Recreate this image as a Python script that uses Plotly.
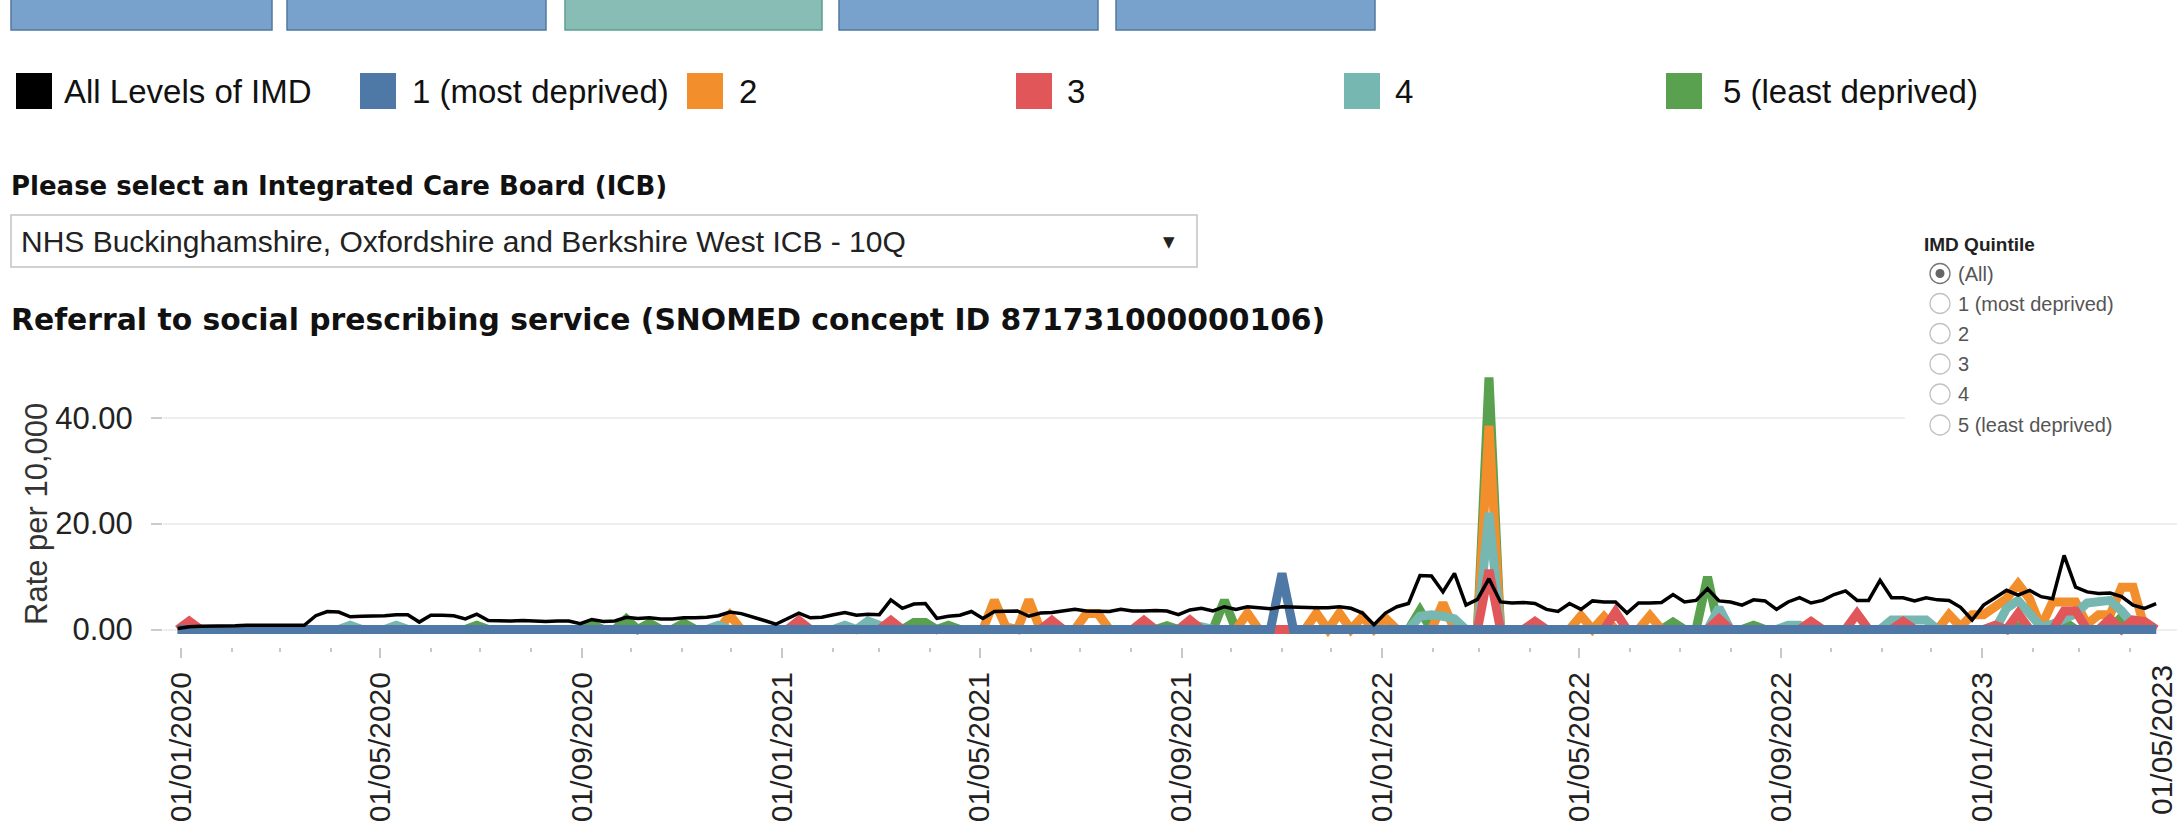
import pandas as pd
import plotly.graph_objects as go

# ---------------- data ----------------
weeks = pd.date_range("2019-12-30", periods=173, freq="7D")

all_imd = [
    0.2, 0.5, 0.6, 0.6, 0.7, 0.7, 0.8, 0.8, 0.9, 0.9, 0.9, 0.8, 2.6, 3.4, 3.3, 2.4, 2.5, 2.5, 2.6, 2.8,
    2.8, 1.4, 2.7, 2.7, 2.6, 2.0, 2.9, 1.7, 1.6, 1.6, 1.7, 1.6, 1.5, 1.6, 1.6, 1.1, 1.9, 1.5, 1.6, 2.3,
    2.1, 2.2, 2.0, 2.0, 2.2, 2.2, 2.3, 2.6, 3.3, 3.0, 2.4, 1.7, 1.0, 2.1, 3.1, 2.2, 2.3, 2.8, 3.2, 2.7,
    2.9, 2.8, 5.6, 4.0, 4.8, 4.9, 2.1, 2.5, 2.7, 3.4, 2.1, 3.4, 3.4, 3.5, 2.5, 3.1, 3.2, 3.5, 3.8, 3.5,
    3.5, 3.4, 3.8, 3.5, 3.5, 3.6, 3.5, 2.8, 3.7, 4.0, 3.5, 4.3, 3.8, 4.3, 4.1, 3.9, 4.3, 4.2, 4.1, 4.1,
    4.1, 4.3, 4.0, 3.1, 0.9, 3.1, 4.3, 4.9, 10.2, 10.1, 7.1, 10.6, 4.6, 5.7, 9.6, 5.2, 5.0, 5.1, 4.9, 3.8,
    3.4, 4.9, 3.8, 5.4, 5.2, 5.2, 3.1, 5.0, 5.0, 5.1, 6.6, 5.2, 5.5, 7.7, 5.4, 5.2, 4.6, 5.6, 5.4, 3.8,
    5.2, 6.0, 5.0, 5.5, 6.6, 7.3, 5.5, 5.5, 9.3, 6.0, 6.0, 5.4, 6.0, 5.6, 5.5, 4.2, 1.8, 4.6, 6.0, 7.4,
    6.5, 7.4, 6.2, 5.8, 14.0, 8.0, 7.1, 6.8, 6.9, 6.2, 4.6, 4.0, 4.9,
]

q1_most = [
    0, 0, 0, 0, 0, 0, 0, 0, 0, 0, 0, 0, 0, 0, 0, 0, 0, 0, 0, 0,
    0, 0, 0, 0, 0, 0, 0, 0, 0, 0, 0, 0, 0, 0, 0, 0, 0, 0, 0, 0,
    0, 0, 0, 0, 0, 0, 0, 0, 0, 0, 0, 0, 0, 0, 0, 0, 0, 0, 0, 0,
    0, 0, 0, 0, 0, 0, 0, 0, 0, 0, 0, 0, 0, 0, 0, 0, 0, 0, 0, 0,
    0, 0, 0, 0, 0, 0, 0, 0, 0, 0, 0, 0, 0, 0, 0, 0, 10.6, 0, 0, 0,
    0, 0, 0, 0, 0, 0, 0, 0, 0, 0, 0, 0, 0, 0, 0, 0, 0, 0, 0, 0,
    0, 0, 0, 0, 0, 0, 0, 0, 0, 0, 0, 0, 0, 0, 0, 0, 0, 0, 0, 0,
    0, 0, 0, 0, 0, 0, 0, 0, 0, 0, 0, 0, 0, 0, 0, 0, 0, 0, 0, 0,
    0, 0, 0, 0, 0, 0, 0, 0, 0, 0, 0, 0, 0,
]

q2 = [
    0, 0, 0, 0, 0, 0, 0, 0, 0, 0, 0, 0, 0, 0, 0, 0, 0, 0, 0, 0,
    0, 0, 0, 0, 0, 0, 0, 0, 0, 0, 0, 0, 0, 0, 0, 0, 0, 0, 0, 0,
    0, 0, 0, 0, 0, 0, 0, 0, 2.7, 0, 0, 0, 0, 0, 0, 0, 0, 0, 0, 0,
    0, 0, 0, 0, 0, 0, 0, 0, 0, 0, 0, 5.5, 0.5, 0, 5.6, 0, 0, 0, 0, 3.0,
    3.0, 0, 0, 0, 0, 0, 0, 0, 0, 0, 0, 0, 0, 3.1, 0, 0, 0, 0, 0, 3.1,
    0, 3.1, 0, 2.4, 0, 2.1, 0, 0, 0, 0, 5.0, 0, 0, 0, 38.5, 0, 0, 0, 0, 0,
    0, 0, 2.6, 0, 2.4, 0, 0, 0, 2.6, 0, 0, 0, 0, 0, 0, 0, 0, 0, 0, 0,
    0, 0, 0, 0, 0, 0, 0, 0, 0, 0, 0, 0, 0, 0, 2.8, 0.5, 2.8, 2.8, 4.3, 5.8,
    8.6, 5.8, 0.5, 5.2, 5.2, 5.2, 1.0, 2.8, 2.8, 8.0, 8.0, 0.3, 0,
]

q3 = [
    0, 1.6, 0, 0, 0, 0, 0, 0, 0, 0, 0, 0, 0, 0, 0, 0, 0, 0, 0, 0,
    0, 0, 0, 0, 0, 0, 0, 0, 0, 0, 0, 0, 0, 0, 0, 0, 0, 0, 0, 0,
    0, 0, 0, 0, 0, 0, 0, 0, 0, 0, 0, 0, 0, 0, 1.7, 0, 0, 0, 0, 0,
    0, 0, 1.7, 0, 0, 0, 0, 0, 0, 0, 0, 0, 0, 0, 0, 0, 1.7, 0, 0, 0,
    0, 0, 0, 0, 1.7, 0, 0, 0, 1.8, 0, 0, 0, 0, 0, 0, 0, 0, 0, 0, 0,
    0, 0, 0, 0, 0, 0, 0, 0, 0, 0, 0, 0, 0, 0, 11.2, 0, 0, 0, 1.5, 0,
    0, 0, 0, 0, 0, 3.3, 0, 0, 0, 0, 0, 0, 0, 0, 2.0, 0, 0, 0, 0, 0,
    0, 0, 1.5, 0, 0, 0, 3.0, 0, 0, 0, 1.5, 0, 0, 0, 0, 0, 0, 0, 0.8, 0,
    3.0, 0, 0, 0, 3.5, 3.5, 0, 0, 2.0, 0, 1.8, 1.5, 0,
]

q4 = [
    0, 0, 0, 0, 0, 0, 0, 0, 0, 0, 0, 0, 0, 0, 0, 0.8, 0, 0, 0, 0.8,
    0, 0, 0, 0, 0, 0, 0, 0, 0, 0, 0, 0, 0, 0, 0, 0, 0, 0, 0, 0,
    0, 0, 0, 0, 0, 0, 0, 0.8, 0, 0, 0, 0, 0, 0, 0, 0, 0, 0, 0.8, 0,
    1.6, 1.0, 0, 0, 0, 0, 0, 0, 0, 0, 0, 0, 0, 0, 0, 0, 0, 0, 0, 0,
    0, 0, 0, 0, 0, 0, 0, 0, 1.0, 0.5, 0, 0, 0, 0, 0, 0, 0, 0, 0, 0,
    0, 0, 0, 0, 0, 0, 0, 0, 2.5, 2.8, 2.5, 2.0, 0, 0, 22.0, 0, 0, 0, 0, 0,
    0, 0, 0, 0, 0, 0, 0, 0, 0, 0, 0, 0, 0, 0, 4.1, 0, 0, 0, 0, 0,
    0.8, 0.8, 0, 0, 0, 0, 0, 0, 0, 1.8, 1.8, 1.8, 1.8, 0, 0, 0, 0, 0, 0, 4.0,
    5.5, 3.0, 0.5, 1.0, 2.0, 3.0, 5.0, 5.3, 5.5, 3.5, 1.0, 0, 0,
]

q5_least = [
    0, 0, 0, 0, 0, 0, 0, 0, 0, 0, 0, 0, 0, 0, 0, 0, 0, 0, 0, 0,
    0, 0, 0, 0, 0, 0, 0.8, 0, 0, 0, 0, 0, 0, 0, 0, 0, 1.0, 0, 0, 2.0,
    0, 1.2, 0, 0, 1.2, 0, 0, 0, 0, 0, 0, 0, 0, 0, 0, 0, 0, 0, 0, 0,
    0, 0, 0, 0, 1.3, 1.3, 0, 0.8, 0, 0, 0, 0, 0, 0, 0, 0, 0, 0, 0, 0,
    0, 0, 0, 0, 0, 0, 0.7, 0, 0, 0, 0, 5.5, 0, 0, 0, 0, 0, 0, 0, 0,
    0, 0, 0, 0, 0, 0, 0, 0, 3.6, 0, 0, 0, 0, 0, 47.6, 0, 0, 0, 0, 0,
    0, 0, 0, 0, 0, 0, 0, 0, 0, 0, 1.4, 0, 0, 9.9, 0, 0, 0, 0.8, 0, 0,
    0, 0, 0, 0, 0, 0, 0, 0, 0, 0, 0, 0, 0, 0, 0, 0, 0, 0, 0, 0,
    0.6, 0, 0, 0, 1.5, 0, 0, 0, 0, 2.4, 0, 0, 0,
]

legend_labels = ["All Levels of IMD", "1 (most deprived)", "2", "3", "4", "5 (least deprived)"]
radio_labels = ["(All)", "1 (most deprived)", "2", "3", "4", "5 (least deprived)"]
y_ticks = [0, 20, 40]
last_tick_label = "01/05/2023"

# ---------------- styling ----------------
W, H = 2177, 829
L, R, T, B = 163, 0, 360, 182
PW, PH = W - L - R, H - T - B
ARIAL = "Liberation Sans, Arial, sans-serif"
BOLD = "DejaVu Sans, Verdana, sans-serif"
COLORS = {"all": "#000000", "1": "#4E79A7", "2": "#F28E2B", "3": "#E15759", "4": "#76B7B2", "5": "#59A14F"}


def px(x):
    return (x - L) / PW


def py(y):
    return (H - B - y) / PH


fig = go.Figure()
series = [
    (q5_least, COLORS["5"], 9),
    (q2, COLORS["2"], 9),
    (q4, COLORS["4"], 9),
    (q3, COLORS["3"], 9),
    (q1_most, COLORS["1"], 9),
    (all_imd, COLORS["all"], 3.5),
]
for vals, col, w in series:
    fig.add_trace(go.Scatter(x=weeks, y=vals, mode="lines",
                             line=dict(color=col, width=w), hoverinfo="skip"))

shapes = []
annotations = []

# cropped buttons at top
buttons = [(11, 272, "#78A2CB", "#51799F"), (287, 546, "#78A2CB", "#51799F"),
           (565, 822, "#87BDB5", "#5E9E92"), (839, 1098, "#78A2CB", "#51799F"),
           (1116, 1375, "#78A2CB", "#51799F")]
for x0, x1, fill, edge in buttons:
    shapes.append(dict(type="rect", xref="paper", yref="paper", x0=px(x0), x1=px(x1),
                       y0=py(30), y1=py(-4), fillcolor=fill, line=dict(color=edge, width=1.5)))

# colour legend row
sw_x = [16, 360, 687, 1016, 1344, 1666]
tx_x = [62, 410, 737, 1065, 1393, 1721]
sw_cols = [COLORS["all"], COLORS["1"], COLORS["2"], COLORS["3"], COLORS["4"], COLORS["5"]]
for sx, tx, col, lab in zip(sw_x, tx_x, sw_cols, legend_labels):
    shapes.append(dict(type="rect", xref="paper", yref="paper", x0=px(sx), x1=px(sx + 36),
                       y0=py(109), y1=py(73), fillcolor=col, line=dict(width=0)))
    annotations.append(dict(text=lab, x=px(tx), y=py(91), xref="paper", yref="paper",
                            xanchor="left", yanchor="middle", showarrow=False,
                            font=dict(family=ARIAL, size=33, color="#111111")))

# parameter title + dropdown
annotations.append(dict(text="<b>Please select an Integrated Care Board (ICB)</b>", x=px(9), y=py(186),
                        xref="paper", yref="paper", xanchor="left", yanchor="middle", showarrow=False,
                        font=dict(family=BOLD, size=26, color="#111111")))
shapes.append(dict(type="rect", xref="paper", yref="paper", x0=px(11), x1=px(1197),
                   y0=py(267), y1=py(215), fillcolor="white", line=dict(color="#c4c4c4", width=1.5)))
annotations.append(dict(text="NHS Buckinghamshire, Oxfordshire and Berkshire West ICB - 10Q", x=px(19), y=py(241),
                        xref="paper", yref="paper", xanchor="left", yanchor="middle", showarrow=False,
                        font=dict(family=ARIAL, size=30, color="#222222")))
annotations.append(dict(text="▼", x=px(1169), y=py(242), xref="paper", yref="paper",
                        xanchor="center", yanchor="middle", showarrow=False,
                        font=dict(family="DejaVu Sans", size=15, color="#222222")))

# chart title
annotations.append(dict(text="<b>Referral to social prescribing service (SNOMED concept ID 871731000000106)</b>",
                        x=px(9), y=py(319), xref="paper", yref="paper", xanchor="left", yanchor="middle",
                        showarrow=False, font=dict(family=BOLD, size=29.8, color="#111111")))

# y axis title
annotations.append(dict(text="Rate per 10,000", x=px(36), y=py(514), xref="paper", yref="paper",
                        xanchor="center", yanchor="middle", textangle=-90, showarrow=False,
                        font=dict(family=ARIAL, size=31, color="#333333")))

# last (edge-shifted) x tick label
annotations.append(dict(text=last_tick_label, x=px(2161), y=py(663), xref="paper", yref="paper",
                        xanchor="center", yanchor="top", textangle=-90, showarrow=False,
                        font=dict(family=ARIAL, size=30, color="#222222")))

# radio-button filter card
shapes.append(dict(type="rect", xref="paper", yref="paper", x0=px(1905), x1=px(2177),
                   y0=py(442), y1=py(226), fillcolor="white", line=dict(width=0), layer="above"))
annotations.append(dict(text="<b>IMD Quintile</b>", x=px(1922), y=py(244), xref="paper", yref="paper",
                        xanchor="left", yanchor="middle", showarrow=False,
                        font=dict(family=ARIAL, size=19, color="#222222")))
radio_y = [273.5, 303.5, 333.5, 364, 394, 425]
for i, (ry, lab) in enumerate(zip(radio_y, radio_labels)):
    shapes.append(dict(type="circle", xref="paper", yref="paper", x0=px(1930), x1=px(1950),
                       y0=py(ry + 10), y1=py(ry - 10), fillcolor="white",
                       line=dict(color="#777777" if i == 0 else "#c2c2c2", width=1.3), layer="above"))
    if i == 0:
        shapes.append(dict(type="circle", xref="paper", yref="paper", x0=px(1935.5), x1=px(1944.5),
                           y0=py(ry + 4.5), y1=py(ry - 4.5), fillcolor="#666666", line=dict(width=0),
                           layer="above"))
    annotations.append(dict(text=lab, x=px(1956), y=py(ry), xref="paper", yref="paper",
                            xanchor="left", yanchor="middle", showarrow=False,
                            font=dict(family=ARIAL, size=20, color="#555555")))

# axes scaling: 0 at 629.5px, 5.295 px per unit
y_lo = -(H - B - 629.5) / 5.295
y_hi = (629.5 - T) / 5.295

fig.update_layout(
    width=W, height=H, margin=dict(l=L, r=R, t=T, b=B, pad=0),
    paper_bgcolor="white", plot_bgcolor="white", showlegend=False,
    shapes=shapes, annotations=annotations,
    xaxis=dict(type="date", range=["2019-12-21 01:00", "2023-04-29 17:00"],
               tick0="2020-01-01", dtick="M4", tickformat="%d/%m/%Y", tickangle=-90,
               ticks="outside", ticklen=10, tickwidth=2, tickcolor="#c8c8c8",
               ticklabelstandoff=2,
               tickfont=dict(family=ARIAL, size=30, color="#222222"),
               showgrid=False, zeroline=False, showline=False,
               minor=dict(dtick="M1", ticks="outside", ticklen=4, tickwidth=2,
                          tickcolor="#c8c8c8", showgrid=False)),
    yaxis=dict(range=[y_lo, y_hi], tickvals=y_ticks, tickformat=".2f",
               ticks="outside", ticklen=11, tickwidth=2, tickcolor="#cccccc",
               ticklabelstandoff=12,
               tickfont=dict(family=ARIAL, size=31, color="#222222"),
               showgrid=True, gridcolor="#eeeeee", gridwidth=2,
               zeroline=False, showline=False),
)

fig.write_html("out.html", config={"displayModeBar": False},
               post_script="document.body.style.margin='0';")
